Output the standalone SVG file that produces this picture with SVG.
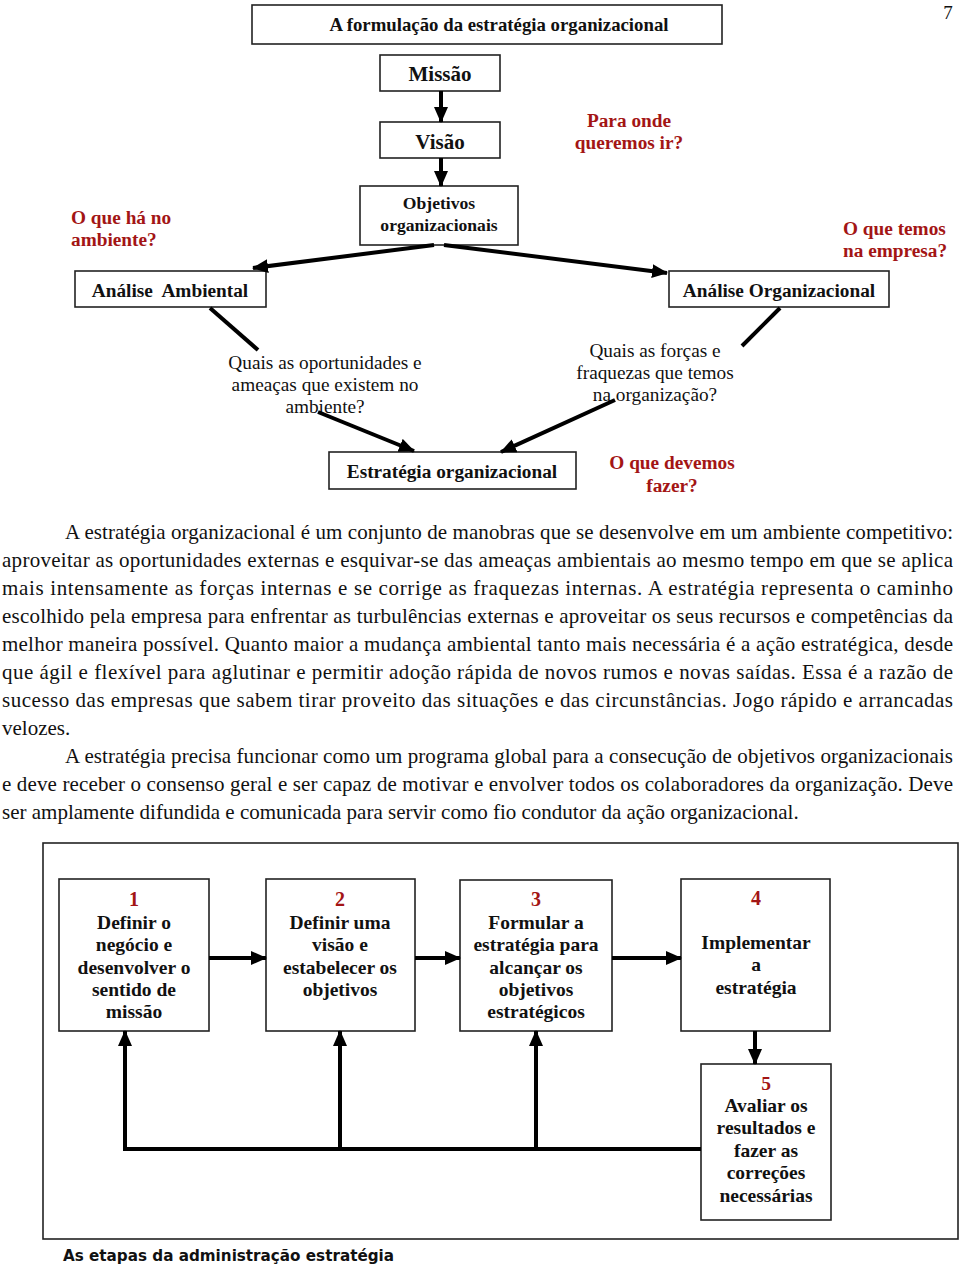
<svg xmlns="http://www.w3.org/2000/svg" width="960" height="1266" viewBox="0 0 960 1266">
<defs>
<style>
.box{fill:#fff;stroke:#222;stroke-width:1.6}
.b{font-family:"Liberation Serif",serif;font-weight:bold;fill:#111}
.r{font-family:"Liberation Serif",serif;font-weight:bold;fill:#a31515}
.n{font-family:"Liberation Serif",serif;fill:#111}
.c{text-anchor:middle}
.ln{stroke:#000;stroke-width:4;fill:none}
.p{font-family:"Liberation Serif",serif;font-size:21px;fill:#111}
.s{font-size:19.5px}
.q{font-size:19.3px}
</style>
<marker id="ah" markerUnits="userSpaceOnUse" markerWidth="16" markerHeight="14" refX="15" refY="7" orient="auto">
<path d="M0,0 L16,7 L0,14 Z" fill="#000"/>
</marker>
</defs>
<rect width="960" height="1266" fill="#fff"/>
<text class="n" x="948" y="19" font-size="19" text-anchor="middle">7</text>

<g id="titulo"><rect class="box" x="252" y="5" width="470" height="39"/><text class="b c" x="499" y="31" font-size="18.8">A formulação da estratégia organizacional</text></g>
<g id="missao"><rect class="box" x="380" y="55" width="120" height="36"/><text class="b c" x="440" y="81" font-size="21">Missão</text></g>
<g id="visao"><rect class="box" x="380" y="122" width="120" height="36"/><text class="b c" x="440" y="149" font-size="21">Visão</text></g>
<g id="objetivos"><rect class="box" x="360" y="186" width="158" height="59"/><text class="b c" x="439" y="209" font-size="17.6">Objetivos</text><text class="b c" x="439" y="231" font-size="17.6">organizacionais</text></g>
<g id="analise-ambiental"><rect class="box" x="75" y="271" width="191" height="36"/><text class="b c q" x="170" y="297" xml:space="preserve">Análise  Ambiental</text></g>
<g id="analise-organizacional"><rect class="box" x="669" y="271" width="220" height="36"/><text class="b c q" x="779" y="297">Análise Organizacional</text></g>
<g id="estrategia"><rect class="box" x="329" y="452" width="247" height="37"/><text class="b c q" x="452" y="478">Estratégia organizacional</text></g>

<g id="perguntas">
<text class="r c q" x="629" y="127">Para onde</text>
<text class="r c q" x="629" y="149">queremos ir?</text>
<text class="r q" x="71" y="224">O que há no</text>
<text class="r q" x="71" y="246">ambiente?</text>
<text class="r q" x="843" y="235">O que temos</text>
<text class="r q" x="843" y="257">na empresa?</text>
<text class="r c q" x="672" y="469">O que devemos</text>
<text class="r c q" x="672" y="492">fazer?</text>
<text class="n c q" x="325" y="369">Quais as oportunidades e</text>
<text class="n c q" x="325" y="391">ameaças que existem no</text>
<text class="n c q" x="325" y="413">ambiente?</text>
<text class="n c q" x="655" y="357">Quais as forças e</text>
<text class="n c q" x="655" y="379">fraquezas que temos</text>
<text class="n c q" x="655" y="401">na organização?</text>
</g>

<g id="conectores-topo">
<line class="ln" x1="441" y1="91" x2="441" y2="122" marker-end="url(#ah)"/>
<line class="ln" x1="441" y1="158" x2="441" y2="186" marker-end="url(#ah)"/>
<line class="ln" x1="434" y1="245" x2="253" y2="268" marker-end="url(#ah)"/>
<line class="ln" x1="444" y1="245" x2="667" y2="273" marker-end="url(#ah)"/>
<line class="ln" x1="210" y1="308" x2="258" y2="350"/>
<line class="ln" x1="780" y1="308" x2="742" y2="346"/>
<line class="ln" x1="318" y1="412" x2="414" y2="451" marker-end="url(#ah)"/>
<line class="ln" x1="615" y1="400" x2="501" y2="452" marker-end="url(#ah)"/>
</g>

<g id="paragrafo">
<text class="p" x="65" y="539" textLength="888" lengthAdjust="spacing">A estratégia organizacional é um conjunto de manobras que se desenvolve em um ambiente competitivo:</text>
<text class="p" x="2" y="567" textLength="951" lengthAdjust="spacing">aproveitar as oportunidades externas e esquivar-se das ameaças ambientais ao mesmo tempo em que se aplica</text>
<text class="p" x="2" y="595" textLength="951" lengthAdjust="spacing">mais intensamente as forças internas e se corrige as fraquezas internas. A estratégia representa o caminho</text>
<text class="p" x="2" y="623" textLength="951" lengthAdjust="spacing">escolhido pela empresa para enfrentar as turbulências externas e aproveitar os seus recursos e competências da</text>
<text class="p" x="2" y="651" textLength="951" lengthAdjust="spacing">melhor maneira possível. Quanto maior a mudança ambiental tanto mais necessária é a ação estratégica, desde</text>
<text class="p" x="2" y="679" textLength="951" lengthAdjust="spacing">que ágil e flexível para aglutinar e permitir adoção rápida de novos rumos e novas saídas. Essa é a razão de</text>
<text class="p" x="2" y="707" textLength="951" lengthAdjust="spacing">sucesso das empresas que sabem tirar proveito das situações e das circunstâncias. Jogo rápido e arrancadas</text>
<text class="p" x="2" y="735">velozes.</text>
<text class="p" x="65" y="763" textLength="888" lengthAdjust="spacing">A estratégia precisa funcionar como um programa global para a consecução de objetivos organizacionais</text>
<text class="p" x="2" y="791" textLength="951" lengthAdjust="spacing">e deve receber o consenso geral e ser capaz de motivar e envolver todos os colaboradores da organização. Deve</text>
<text class="p" x="2" y="819">ser amplamente difundida e comunicada para servir como fio condutor da ação organizacional.</text>
</g>

<rect id="moldura" x="43" y="843" width="915" height="396" fill="none" stroke="#222" stroke-width="1.6"/>

<g id="etapa1"><rect class="box" x="59" y="879" width="150" height="152"/>
<text class="r c" x="134" y="906" font-size="20">1</text>
<text class="b c s" x="134" y="929">Definir o</text>
<text class="b c s" x="134" y="951">negócio e</text>
<text class="b c s" x="134" y="974">desenvolver o</text>
<text class="b c s" x="134" y="996">sentido de</text>
<text class="b c s" x="134" y="1018">missão</text></g>
<g id="etapa2"><rect class="box" x="266" y="879" width="149" height="152"/>
<text class="r c" x="340" y="906" font-size="20">2</text>
<text class="b c s" x="340" y="929">Definir uma</text>
<text class="b c s" x="340" y="951">visão e</text>
<text class="b c s" x="340" y="974">estabelecer os</text>
<text class="b c s" x="340" y="996">objetivos</text></g>
<g id="etapa3"><rect class="box" x="460" y="880" width="152" height="151"/>
<text class="r c" x="536" y="906" font-size="20">3</text>
<text class="b c s" x="536" y="929">Formular a</text>
<text class="b c s" x="536" y="951">estratégia para</text>
<text class="b c s" x="536" y="974">alcançar os</text>
<text class="b c s" x="536" y="996">objetivos</text>
<text class="b c s" x="536" y="1018">estratégicos</text></g>
<g id="etapa4"><rect class="box" x="681" y="879" width="149" height="152"/>
<text class="r c" x="756" y="905" font-size="20">4</text>
<text class="b c s" x="756" y="949">Implementar</text>
<text class="b c s" x="756" y="971">a</text>
<text class="b c s" x="756" y="994">estratégia</text></g>
<g id="etapa5"><rect class="box" x="701" y="1064" width="130" height="156"/>
<text class="r c s" x="766" y="1090">5</text>
<text class="b c s" x="766" y="1112">Avaliar os</text>
<text class="b c s" x="766" y="1134">resultados e</text>
<text class="b c s" x="766" y="1157">fazer as</text>
<text class="b c s" x="766" y="1179">correções</text>
<text class="b c s" x="766" y="1202">necessárias</text></g>

<g id="conectores-etapas">
<line class="ln" x1="209" y1="958" x2="266" y2="958" marker-end="url(#ah)"/>
<line class="ln" x1="415" y1="958" x2="460" y2="958" marker-end="url(#ah)"/>
<line class="ln" x1="612" y1="958" x2="681" y2="958" marker-end="url(#ah)"/>
<line class="ln" x1="755" y1="1031" x2="755" y2="1064" marker-end="url(#ah)"/>
<polyline class="ln" points="701,1149 123,1149"/>
<line class="ln" x1="125" y1="1151" x2="125" y2="1031" marker-end="url(#ah)"/>
<line class="ln" x1="340" y1="1149" x2="340" y2="1031" marker-end="url(#ah)"/>
<line class="ln" x1="536" y1="1149" x2="536" y2="1031" marker-end="url(#ah)"/>
</g>

<text x="63" y="1261" font-family="DejaVu Sans, sans-serif" font-weight="bold" font-size="16" fill="#111" textLength="331" lengthAdjust="spacingAndGlyphs">As etapas da administração estratégia</text>
</svg>
